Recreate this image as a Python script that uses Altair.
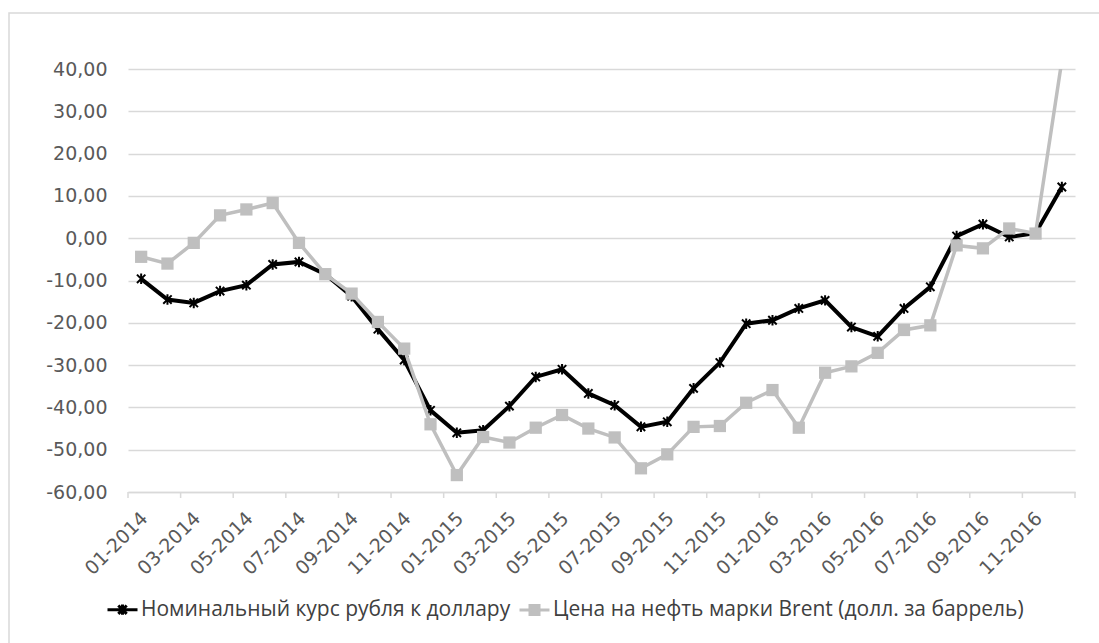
import json
import altair as alt
import pandas as pd

# ---- data ----
months = [
    "01-2014", "02-2014", "03-2014", "04-2014", "05-2014", "06-2014",
    "07-2014", "08-2014", "09-2014", "10-2014", "11-2014", "12-2014",
    "01-2015", "02-2015", "03-2015", "04-2015", "05-2015", "06-2015",
    "07-2015", "08-2015", "09-2015", "10-2015", "11-2015", "12-2015",
    "01-2016", "02-2016", "03-2016", "04-2016", "05-2016", "06-2016",
    "07-2016", "08-2016", "09-2016", "10-2016", "11-2016", "12-2016",
]
rub = [-9.6, -14.5, -15.3, -12.5, -11.1, -6.2, -5.6, -8.5, -13.7, -21.5,
       -28.8, -40.7, -46.0, -45.4, -39.7, -32.8, -31.0, -36.7, -39.5, -44.6,
       -43.4, -35.5, -29.4, -20.2, -19.4, -16.6, -14.7, -21.0, -23.2, -16.6,
       -11.5, 0.5, 3.3, 0.3, 1.2, 12.1]
brent = [-4.4, -6.0, -1.1, 5.4, 6.8, 8.3, -1.1, -8.5, -13.1, -19.8,
         -26.1, -44.0, -56.0, -47.0, -48.3, -44.8, -41.8, -45.0, -47.1, -54.4,
         -51.1, -44.6, -44.4, -38.9, -35.9, -44.8, -31.8, -30.3, -27.1, -21.7,
         -20.6, -1.7, -2.4, 2.3, 1.1, 42.0]
RUB = "Номинальный курс рубля к доллару"
BRENT = "Цена на нефть марки Brent (долл. за баррель)"
y_ticks = [-60, -50, -40, -30, -20, -10, 0, 10, 20, 30, 40]
x_label_idx = list(range(0, 36, 2))
x_tick_bounds = [i - 0.5 for i in range(0, 37, 2)]

rows = []
for i, m in enumerate(months):
    rows.append({"idx": i, "month": m, "value": rub[i], "series": RUB})
for i, m in enumerate(months):
    rows.append({"idx": i, "month": m, "value": brent[i], "series": BRENT})
df = pd.DataFrame(rows)
df_rub = df[df.series == RUB]
df_brent = df[df.series == BRENT]

W, H = 947, 423
AXIS_FONT = "DejaVu Sans"
LEGEND_FONT = "Open Sans"
LABEL_COLOR = "#595959"
GRID = "#d9d9d9"
BLACK = "#000000"
GRAY = "#bfbfbf"

xscale = alt.Scale(domain=[-0.5, 35.5], nice=False, zero=False)
yscale = alt.Scale(domain=[-60, 40], nice=False, zero=False)

x_axis = alt.Axis(
    values=x_label_idx,
    labelExpr=json.dumps(months, ensure_ascii=False) + "[datum.value]",
    labelAngle=-45, labelAlign="right", labelBaseline="middle",
    labelFont=AXIS_FONT, labelFontSize=19, labelColor=LABEL_COLOR,
    labelPadding=23, labelOffset=3, ticks=False, tickSize=0, grid=False,
    domain=True, domainColor=GRID, domainWidth=1.5, title=None,
    labelOverlap=False,
)
y_axis = alt.Axis(
    values=y_ticks,
    labelExpr="replace(replace(format(datum.value, '.2f'), '.', ','), '\u2212', '-')",
    labelFont=AXIS_FONT, labelFontSize=19, labelColor=LABEL_COLOR,
    labelPadding=21, ticks=False, tickSize=0, grid=True, gridColor=GRID,
    gridWidth=1.5, domain=False, title=None,
)

X = alt.X("idx:Q", scale=xscale, axis=x_axis)
Y = alt.Y("value:Q", scale=yscale, axis=y_axis)

star_path = "M-0.8,-0.8L0.8,0.8M-0.8,0.8L0.8,-0.8M0,-1L0,1"
leg_rub = "M-1,0H1M-0.28,-0.28L0.28,0.28M-0.28,0.28L0.28,-0.28M0,-0.34V0.34"
leg_brent = "M-1,0H1M-0.3,-0.3H0.3V0.3H-0.3Z"

legend = alt.Legend(
    orient="none", legendX=-22, legendY=524, direction="horizontal",
    title=None, labelFont=LEGEND_FONT, labelFontSize=21, labelColor="#404040",
    labelLimit=900, symbolSize=900, symbolStrokeWidth=3, columnPadding=2,
    labelOffset=2, padding=0, symbolOpacity=1,
)
dom = [RUB, BRENT]

border = alt.Chart(pd.DataFrame({"k": [0]})).mark_rect(
    filled=False, stroke=GRID, strokeWidth=1.5
).encode(x=alt.value(-119), x2=alt.value(1000), y=alt.value(-56), y2=alt.value(700))

ticks = alt.Chart(pd.DataFrame({"b": x_tick_bounds})).mark_rule(
    color=GRID, strokeWidth=1.5
).encode(x=alt.X("b:Q", scale=xscale, axis=x_axis), y=alt.value(H), y2=alt.value(H + 6))

rub_line = alt.Chart(df_rub).mark_line(strokeWidth=4, color=BLACK, clip=True).encode(x=X, y=Y)
rub_pts = alt.Chart(df_rub).mark_point(
    shape=star_path, size=110, filled=False, stroke=BLACK, strokeWidth=2, opacity=1, clip=True
).encode(x=X, y=Y)
brent_line = alt.Chart(df_brent).mark_line(strokeWidth=3.5, color=GRAY, clip=True).encode(x=X, y=Y)
brent_pts = alt.Chart(df_brent).mark_point(
    shape="square", size=150, filled=True, fill=GRAY, opacity=1, strokeWidth=0, clip=True
).encode(x=X, y=Y)

# legend-only layer (no rows pass the filter; the legend comes from the scales)
legend_layer = alt.Chart(df).transform_filter("false").mark_point(filled=True).encode(
    x=X, y=Y,
    shape=alt.Shape("series:N", scale=alt.Scale(domain=dom, range=[leg_rub, leg_brent]), legend=legend),
    fill=alt.Fill("series:N", scale=alt.Scale(domain=dom, range=["transparent", GRAY]), legend=legend),
    stroke=alt.Stroke("series:N", scale=alt.Scale(domain=dom, range=[BLACK, GRAY]), legend=legend),
)

chart = alt.layer(border, ticks, rub_line, rub_pts, brent_line, brent_pts, legend_layer).properties(
    width=W, height=H,
    padding={"left": 128, "top": 69, "right": 24, "bottom": 151},
    autosize=alt.AutoSizeParams(type="none"),
    background="white",
).configure_view(strokeWidth=0)

chart.save("out.html", embed_options={"renderer": "svg", "actions": False})
